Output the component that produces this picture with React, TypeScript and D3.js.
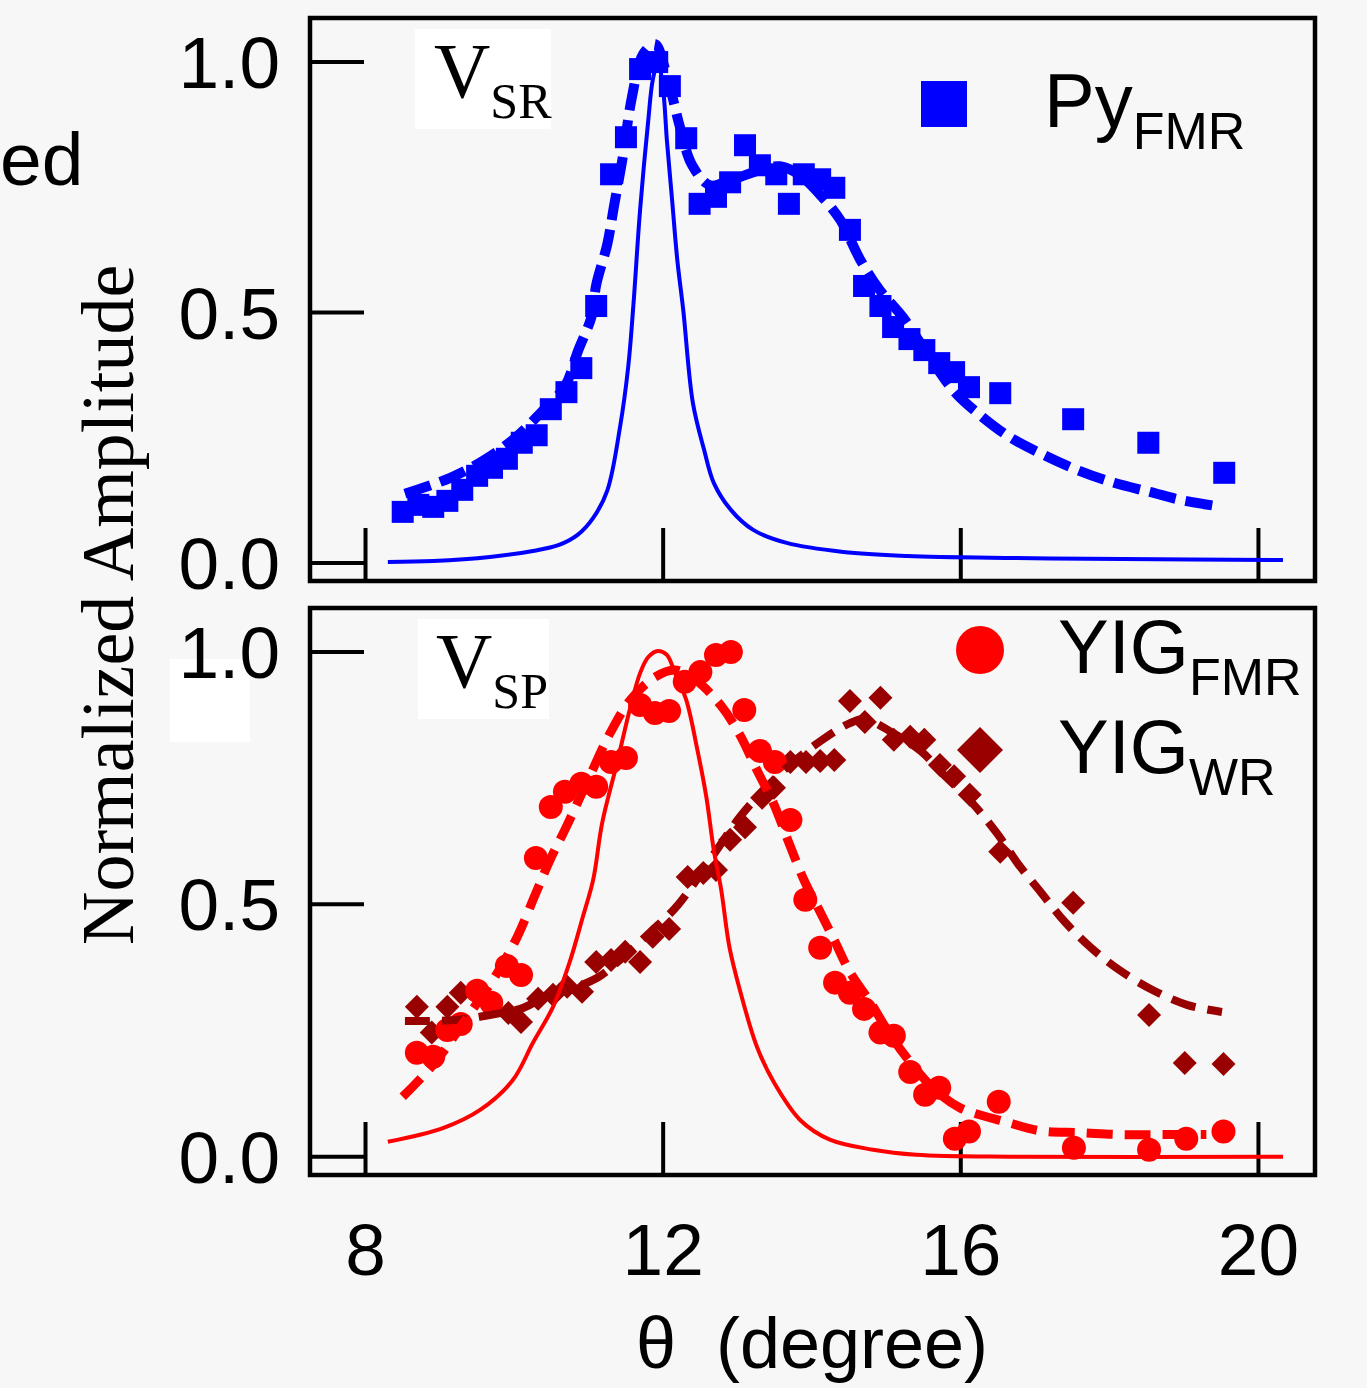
import React from 'react'
import * as d3 from 'd3'

// Py FMR (top panel, squares)
const pyX = [8.50, 8.71, 8.91, 9.10, 9.30, 9.50, 9.70, 9.90, 10.10, 10.30, 10.49, 10.70, 10.90, 11.10, 11.30, 11.50, 11.69, 11.92, 12.09, 12.31, 12.49, 12.71, 12.90, 13.10, 13.30, 13.52, 13.69, 13.89, 14.11, 14.30, 14.51, 14.70, 14.92, 15.09, 15.31, 15.51, 15.71, 15.91, 16.11, 16.53, 17.51, 18.52, 19.54]
const pyY = [0.102, 0.116, 0.112, 0.124, 0.146, 0.174, 0.190, 0.208, 0.240, 0.255, 0.307, 0.341, 0.389, 0.513, 0.776, 0.850, 0.986, 1.000, 0.952, 0.848, 0.717, 0.731, 0.760, 0.834, 0.794, 0.776, 0.717, 0.776, 0.766, 0.749, 0.665, 0.553, 0.513, 0.471, 0.447, 0.425, 0.399, 0.381, 0.351, 0.339, 0.287, 0.240, 0.180]

// V_SR fit (dashed) and V_SR (solid)
const srFitX = [8.53, 9.14, 9.58, 9.98, 10.35, 10.68, 10.86, 11.04, 11.10, 11.25, 11.34, 11.45, 11.58, 11.73, 11.89, 12.03, 12.23, 12.39, 12.63, 12.90, 13.30, 13.57, 13.84, 14.11, 14.38, 14.65, 14.91, 15.22, 15.59, 15.92, 16.26, 16.66, 17.11, 17.56, 18.06, 18.54, 18.95, 19.42]
const srFitY = [0.138, 0.170, 0.204, 0.246, 0.299, 0.353, 0.425, 0.493, 0.555, 0.637, 0.713, 0.804, 0.930, 1.016, 1.036, 0.984, 0.868, 0.794, 0.754, 0.764, 0.784, 0.792, 0.774, 0.735, 0.685, 0.605, 0.545, 0.491, 0.409, 0.341, 0.295, 0.251, 0.216, 0.186, 0.160, 0.142, 0.126, 0.114]
const srX = [8.30, 8.91, 9.67, 10.25, 10.60, 10.85, 11.06, 11.25, 11.42, 11.53, 11.60, 11.69, 11.80, 11.86, 11.93, 12.00, 12.05, 12.12, 12.19, 12.27, 12.40, 12.55, 12.68, 12.91, 13.21, 13.66, 14.42, 15.28, 16.73, 18.17, 20.33]
const srY = [0.002, 0.004, 0.012, 0.024, 0.036, 0.056, 0.090, 0.145, 0.271, 0.391, 0.515, 0.705, 0.884, 0.964, 1.000, 0.944, 0.844, 0.725, 0.605, 0.505, 0.319, 0.226, 0.160, 0.106, 0.066, 0.040, 0.022, 0.014, 0.010, 0.008, 0.006]

// YIG FMR (bottom panel, circles)
const yigFmrX = [8.69, 8.91, 9.10, 9.28, 9.50, 9.69, 9.90, 10.09, 10.29, 10.49, 10.68, 10.90, 11.10, 11.30, 11.50, 11.69, 11.89, 12.08, 12.29, 12.50, 12.71, 12.91, 13.09, 13.30, 13.50, 13.71, 13.91, 14.11, 14.31, 14.51, 14.70, 14.92, 15.10, 15.32, 15.52, 15.71, 15.92, 16.11, 16.51, 17.52, 18.53, 19.03, 19.53]
const yigFmrY = [0.206, 0.198, 0.251, 0.263, 0.329, 0.305, 0.378, 0.360, 0.592, 0.693, 0.723, 0.739, 0.733, 0.782, 0.790, 0.895, 0.879, 0.883, 0.941, 0.960, 0.994, 1.000, 0.885, 0.804, 0.782, 0.667, 0.509, 0.414, 0.345, 0.325, 0.293, 0.246, 0.240, 0.168, 0.123, 0.137, 0.036, 0.050, 0.109, 0.018, 0.014, 0.036, 0.050]

// YIG WR (bottom panel, diamonds)
const yigWrX = [8.69, 8.89, 9.10, 9.28, 9.92, 10.09, 10.32, 10.52, 10.71, 10.91, 11.10, 11.30, 11.49, 11.69, 11.86, 12.08, 12.33, 12.54, 12.71, 12.90, 13.10, 13.33, 13.49, 13.71, 13.92, 14.11, 14.30, 14.51, 14.71, 14.92, 15.10, 15.32, 15.51, 15.72, 15.91, 16.12, 16.53, 17.51, 18.53, 19.01, 19.53]
const yigWrY = [0.297, 0.246, 0.297, 0.325, 0.285, 0.267, 0.313, 0.321, 0.337, 0.327, 0.386, 0.390, 0.406, 0.386, 0.436, 0.451, 0.554, 0.562, 0.568, 0.628, 0.653, 0.711, 0.731, 0.782, 0.782, 0.784, 0.786, 0.903, 0.861, 0.909, 0.826, 0.832, 0.826, 0.776, 0.754, 0.717, 0.604, 0.503, 0.281, 0.186, 0.184]

// V_SP fits
const fmrFitX = [8.50, 8.93, 9.34, 9.77, 10.04, 10.28, 10.48, 10.71, 11.02, 11.29, 11.56, 11.89, 12.16, 12.43, 12.77, 13.03, 13.26, 13.48, 13.69, 13.89, 14.11, 14.31, 14.51, 14.79, 15.05, 15.35, 15.65, 15.99, 16.61, 17.09, 17.60, 18.14, 18.68, 19.30]
const fmrFitY = [0.119, 0.186, 0.271, 0.364, 0.436, 0.519, 0.588, 0.657, 0.756, 0.840, 0.905, 0.950, 0.964, 0.945, 0.895, 0.836, 0.766, 0.701, 0.622, 0.549, 0.485, 0.426, 0.366, 0.305, 0.242, 0.182, 0.133, 0.097, 0.069, 0.051, 0.048, 0.044, 0.044, 0.044]
const spX = [8.30, 9.04, 9.54, 9.98, 10.25, 10.52, 10.74, 10.92, 11.06, 11.18, 11.38, 11.56, 11.69, 11.80, 11.93, 12.05, 12.16, 12.31, 12.46, 12.58, 12.68, 12.78, 12.89, 13.03, 13.26, 13.49, 13.84, 14.24, 14.82, 15.40, 16.73, 20.33]
const spY = [0.030, 0.057, 0.093, 0.152, 0.226, 0.297, 0.384, 0.475, 0.549, 0.661, 0.780, 0.891, 0.958, 0.990, 1.002, 0.994, 0.958, 0.905, 0.806, 0.713, 0.608, 0.529, 0.416, 0.331, 0.218, 0.147, 0.073, 0.034, 0.014, 0.004, 0.000, 0.000]
const wrFitX = [8.53, 9.20, 9.67, 10.12, 10.41, 10.71, 11.11, 11.42, 11.82, 12.20, 12.74, 13.03, 13.33, 13.70, 14.14, 14.51, 14.71, 15.08, 15.46, 15.75, 16.14, 16.48, 16.78, 17.07, 17.40, 17.75, 18.13, 18.57, 19.04, 19.51]
const wrFitY = [0.269, 0.271, 0.281, 0.295, 0.317, 0.331, 0.354, 0.390, 0.444, 0.499, 0.612, 0.673, 0.723, 0.776, 0.826, 0.859, 0.867, 0.840, 0.804, 0.760, 0.703, 0.642, 0.578, 0.525, 0.465, 0.414, 0.370, 0.331, 0.301, 0.287]

const xTicks = [8, 12, 16, 20]
const yTicks = [0, 0.5, 1.0]
const yTickLabels = ['0.0', '0.5', '1.0']

const BLUE = '#0000ff'
const RED = '#ff0000'
const DARK = '#990000'
const SANS = '"Liberation Sans", Arial, Helvetica, sans-serif'
const SERIF = '"Liberation Serif", "Times New Roman", serif'

const zip = (xs: number[], ys: number[]) => xs.map((x, i) => [x, ys[i]] as [number, number])

const x = d3.scaleLinear().domain([7.254, 20.76]).range([310, 1315])
const yTop = d3.scaleLinear().domain([-0.036, 1.088]).range([581, 18])
const yBot = d3.scaleLinear().domain([-0.036, 1.087]).range([1175, 608])

const Panel = ({ y, top, bottom }: { y: d3.ScaleLinear<number, number>, top: number, bottom: number }) => (
  <g>
    <rect x={310} y={top} width={1005} height={bottom - top} fill="none" stroke="#000" strokeWidth={4.5} />
    {yTicks.map((t, i) => (
      <g key={'y' + t}>
        <line x1={310} x2={364} y1={y(t)} y2={y(t)} stroke="#000" strokeWidth={4} />
        <text x={280} y={y(t) + 26} textAnchor="end" fontFamily={SANS} fontSize={73}>{yTickLabels[i]}</text>
      </g>
    ))}
    {xTicks.map(t => (
      <line key={'x' + t} x1={x(t)} x2={x(t)} y1={bottom} y2={bottom - 53} stroke="#000" strokeWidth={4} />
    ))}
  </g>
)

const App = () => {
  const lineTop = d3.line<[number, number]>().x(d => x(d[0])).y(d => yTop(d[1])).curve(d3.curveCatmullRom.alpha(0.5))
  const lineBot = d3.line<[number, number]>().x(d => x(d[0])).y(d => yBot(d[1])).curve(d3.curveCatmullRom.alpha(0.5))
  const diamond = (cx: number, cy: number, r: number) => `M${cx},${cy - r}L${cx + r},${cy}L${cx},${cy + r}L${cx - r},${cy}Z`

  return (
    <svg width={1367} height={1388} style={{ position: 'absolute', left: 0, top: 0 }}>
      <rect x={0} y={0} width={1367} height={1388} fill="#f7f7f7" />

      <text x={0} y={185} fontFamily={SANS} fontSize={75}>ed</text>
      <rect x={170} y={659} width={80} height={83} fill="#fff" />
      <text transform="translate(133,945) rotate(-90)" fontFamily={SERIF} fontSize={74}>Normalized Amplitude</text>

      {/* top panel */}
      <Panel y={yTop} top={18} bottom={581} />
      <rect x={415} y={29} width={136} height={100} fill="#fff" />
      <text x={434} y={97} fontFamily={SERIF} fontSize={78}>V<tspan fontSize={50} dy={21}>SR</tspan></text>

      {zip(pyX, pyY).map((d, i) => (
        <rect key={i} x={x(d[0]) - 11} y={yTop(d[1]) - 11} width={22} height={22} fill={BLUE} />
      ))}
      <path d={lineTop(zip(srFitX, srFitY)) || ''} fill="none" stroke={BLUE} strokeWidth={10} strokeDasharray="27 10" />
      <path d={lineTop(zip(srX, srY)) || ''} fill="none" stroke={BLUE} strokeWidth={4} />

      <rect x={921} y={81} width={46} height={46} fill={BLUE} />
      <text x={1044} y={127} fontFamily={SANS} fontSize={76}>Py<tspan fontSize={52} dy={22}>FMR</tspan></text>

      {/* bottom panel */}
      <Panel y={yBot} top={608} bottom={1175} />
      <rect x={418} y={619} width={131} height={100} fill="#fff" />
      <text x={436} y={687} fontFamily={SERIF} fontSize={78}>V<tspan fontSize={50} dy={21}>SP</tspan></text>

      {zip(yigWrX, yigWrY).map((d, i) => (
        <path key={i} d={diamond(x(d[0]), yBot(d[1]), 12)} fill={DARK} />
      ))}
      {zip(yigFmrX, yigFmrY).map((d, i) => (
        <circle key={i} cx={x(d[0])} cy={yBot(d[1])} r={12} fill={RED} />
      ))}
      <path d={lineBot(zip(wrFitX, wrFitY)) || ''} fill="none" stroke={DARK} strokeWidth={8} strokeDasharray="25 12" />
      <path d={lineBot(zip(fmrFitX, fmrFitY)) || ''} fill="none" stroke={RED} strokeWidth={9} strokeDasharray="26 12" />
      <path d={lineBot(zip(spX, spY)) || ''} fill="none" stroke={RED} strokeWidth={4} />

      <circle cx={980} cy={650} r={24} fill={RED} />
      <text x={1058} y={673} fontFamily={SANS} fontSize={76}>YIG<tspan fontSize={52} dy={22}>FMR</tspan></text>
      <path d={diamond(980, 750, 23)} fill={DARK} />
      <text x={1058} y={773} fontFamily={SANS} fontSize={76}>YIG<tspan fontSize={52} dy={22}>WR</tspan></text>

      {/* x axis labels */}
      {xTicks.map(t => (
        <text key={t} x={x(t)} y={1275} textAnchor="middle" fontFamily={SANS} fontSize={73}>{t}</text>
      ))}
      <text x={812} y={1368} textAnchor="middle" fontFamily={SANS} fontSize={72}>{'θ\u00A0\u00A0(degree)'}</text>
    </svg>
  )
}

export default App
